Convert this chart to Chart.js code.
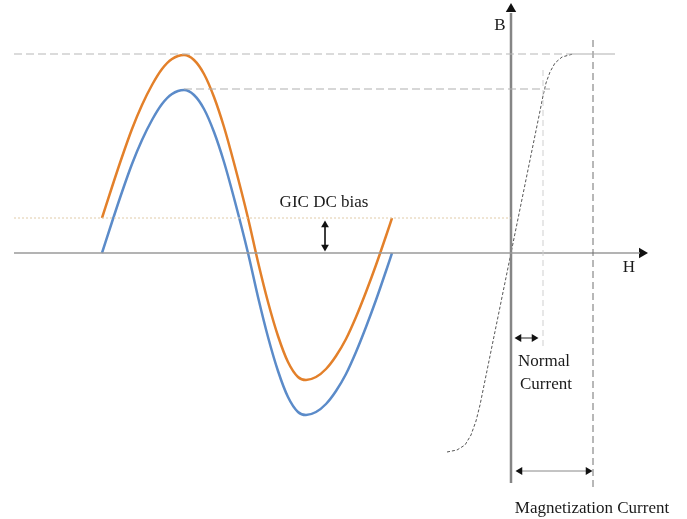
<!DOCTYPE html>
<html>
<head>
<meta charset="utf-8">
<script src="https://cdn.jsdelivr.net/npm/chart.js@4"></script>
<style>
  body { margin: 0; background: #fff; }
  canvas { display: block; }
</style>
</head>
<body>
<canvas id="grafico" width="687" height="519"></canvas>
<script>
// sine waves: time axis (x) and flux values
const waveX = [102,112,122,132,142,152,162,172,184,194,204,214,224,234,248,258,268,278,288,298,306,316,326,336,346,356,366,376,386,392];
const normalFlux = [0,31,61,89,113,133,149,159,163,158,144,121,91,55,0,-44,-84,-118,-144,-159,-162,-159,-151,-138,-121,-99,-74,-47,-18,0];
const biasedFlux = [35,66,96,124,148,168,184,194,198,193,179,156,126,90,35,-9,-49,-83,-109,-124,-127,-124,-116,-103,-86,-64,-39,-12,17,35];

// B-H magnetization curve
const bhH = [447,457,465,471,476,480,490,500,511,520,530,540,543,546,550,555,562,573];
const bhB = [-199,-197,-192,-182,-168,-152,-103,-54,0,44,93,142,157,170,181,190,196,199];

// reference levels
const satLevel = 199;
const normalPeak = 164;
const biasLevel = 35;
const originH = 511;
const normalH = 543;
const magH = 593;

const pts = (xs, ys) => xs.map((x, i) => ({ x: x, y: ys[i] }));

function linha(data, color, width, dash) {
  return {
    data: data,
    showLine: true,
    borderColor: color,
    borderWidth: width,
    borderDash: dash || [],
    pointRadius: 0,
    tension: 0
  };
}

function seta(data, rot, r, lineColor) {
  return {
    data: data,
    showLine: true,
    borderColor: lineColor || "#222",
    borderWidth: 1,
    pointStyle: "triangle",
    pointRadius: r,
    pointRotation: rot,
    pointBackgroundColor: "#111",
    pointBorderColor: "#111",
    pointBorderWidth: 0
  };
}

const textos = {
  id: "textos",
  afterDraw(chart) {
    const ctx = chart.ctx;
    const sx = chart.scales.x, sy = chart.scales.y;
    const labels = [
      ["GIC DC bias", 324, 50],
      ["Normal", 544, -109],
      ["Current", 546, -132],
      ["Magnetization Current", 592, -256],
      ["B", 500, 227],
      ["H", 629, -15]
    ];
    ctx.save();
    ctx.fillStyle = "#1a1a1a";
    ctx.font = "17px 'Liberation Serif'";
    ctx.textAlign = "center";
    ctx.textBaseline = "middle";
    labels.forEach(l => ctx.fillText(l[0], sx.getPixelForValue(l[1]), sy.getPixelForValue(l[2])));
    ctx.restore();
  }
};

new Chart(document.getElementById("grafico"), {
  type: "scatter",
  data: {
    datasets: [
      linha([{ x: 14, y: satLevel }, { x: 570, y: satLevel }], "#b8b8b8", 1.2, [8, 4]),
      linha([{ x: 570, y: satLevel }, { x: 615, y: satLevel }], "#b0b0b0", 1.2),
      linha([{ x: 184, y: normalPeak }, { x: 550, y: normalPeak }], "#b0b0b0", 1.2, [8, 4]),
      linha([{ x: 14, y: biasLevel }, { x: originH, y: biasLevel }], "#e0cba8", 1, [2, 2]),
      linha([{ x: normalH, y: 183 }, { x: normalH, y: -93 }], "#cfcfcf", 1, [6, 4]),
      linha([{ x: magH, y: 213 }, { x: magH, y: -235 }], "#707070", 1, [7, 4]),
      linha([{ x: 14, y: 0 }, { x: 640, y: 0 }], "#9a9a9a", 1.5),
      linha([{ x: originH, y: -230 }, { x: originH, y: 240 }], "#858585", 2.5),
      linha(pts(bhH, bhB), "#555", 1, [3, 2]),
      Object.assign(linha(pts(waveX, normalFlux), "#5b8bc9", 2.5), { tension: 0.4, cubicInterpolationMode: "monotone" }),
      Object.assign(linha(pts(waveX, biasedFlux), "#e3802a", 2.5), { tension: 0.4, cubicInterpolationMode: "monotone" }),
      // arrow heads
      seta([{ x: 642, y: 0 }], 90, 6),
      seta([{ x: originH, y: 244 }], 0, 6),
      seta([{ x: 519, y: -85 }, { x: 534, y: -85 }], [270, 90], 4.5),
      seta([{ x: 520, y: -218 }, { x: 588, y: -218 }], [270, 90], 4.5, "#888"),
      seta([{ x: 325, y: 28 }, { x: 325, y: 6 }], [0, 180], 4.5)
    ]
  },
  options: {
    responsive: false,
    animation: false,
    layout: { padding: 0, autoPadding: false },
    plugins: { legend: { display: false }, tooltip: { enabled: false } },
    scales: {
      x: { type: "linear", min: 0, max: 687, display: false },
      y: { type: "linear", min: -266, max: 253, display: false }
    }
  },
  plugins: [textos]
});
</script>
</body>
</html>
